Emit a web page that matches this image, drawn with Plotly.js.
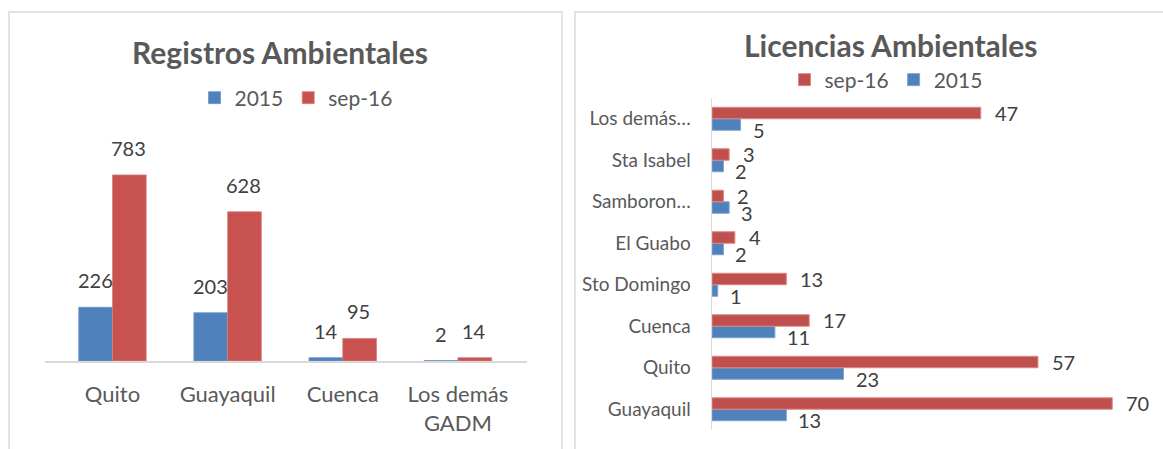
<!DOCTYPE html>
<html>
<head>
<meta charset="utf-8">
<script src="https://cdn.plot.ly/plotly-3.0.1.min.js"></script>
<style>html,body{margin:0;padding:0;background:#fff;}#chart{width:1163px;height:449px;}</style>
</head>
<body>
<div id="chart"></div>
<script>
// Registros Ambientales (left chart)
const leftCats = ['Quito', 'Guayaquil', 'Cuenca', 'Los demás<br>GADM'];
const left2015 = [226, 203, 14, 2];
const leftSep16 = [783, 628, 95, 14];

// Licencias Ambientales (right chart), bottom to top
const rightCats = ['Guayaquil', 'Quito', 'Cuenca', 'Sto Domingo', 'El Guabo', 'Samboron…', 'Sta Isabel', 'Los demás…'];
const right2015 = [13, 23, 11, 1, 2, 3, 2, 5];
const rightSep16 = [70, 57, 17, 13, 4, 2, 3, 47];

const seriesNames = ['2015', 'sep-16'];
const titles = ['Registros Ambientales', 'Licencias Ambientales'];

const BLUE = '#4F81BD', RED = '#C0504D', RED_L = '#C8524F';
const FONT = 'Lato, "Open Sans", sans-serif';
const W = 1163, H = 449;
const px = v => v / W;          // x pixel -> paper
const py = v => (H - v) / H;    // y pixel -> paper

const LW = 0.293; // left bar width (category units)
const RW = 0.277; // right bar width

const traces = [
  {type: 'bar', name: seriesNames[0], x: leftCats, y: left2015, width: LW, offset: -LW,
   marker: {color: BLUE, line: {color: '#6E97C9', width: 0.8}}, xaxis: 'x', yaxis: 'y', legend: 'legend', hoverinfo: 'x+y'},
  {type: 'bar', name: seriesNames[1], x: leftCats, y: leftSep16, width: LW, offset: 0,
   marker: {color: RED_L, line: {color: '#D7807D', width: 0.8}}, xaxis: 'x', yaxis: 'y', legend: 'legend', hoverinfo: 'x+y'},
  {type: 'bar', orientation: 'h', name: seriesNames[0], x: right2015, y: rightCats, width: RW, offset: -RW,
   marker: {color: BLUE, line: {color: '#7FA3D1', width: 1}}, xaxis: 'x2', yaxis: 'y2', legend: 'legend2', hoverinfo: 'x+y'},
  {type: 'bar', orientation: 'h', name: seriesNames[1], x: rightSep16, y: rightCats, width: RW, offset: 0,
   marker: {color: RED, line: {color: '#D98A88', width: 1}}, xaxis: 'x2', yaxis: 'y2', legend: 'legend2', hoverinfo: 'x+y'}
];

const valueFont = {family: FONT, size: 20, color: '#404040'};
const annotations = [];
// left value labels
leftCats.forEach((c, i) => {
  annotations.push({xref: 'x', yref: 'y', x: c, y: left2015[i], text: String(left2015[i]), showarrow: false,
    xanchor: 'center', yanchor: 'middle', xshift: -17, yshift: 27, font: valueFont});
  annotations.push({xref: 'x', yref: 'y', x: c, y: leftSep16[i], text: String(leftSep16[i]), showarrow: false,
    xanchor: 'center', yanchor: 'middle', xshift: 16, yshift: 27, font: valueFont});
});
// right value labels
rightCats.forEach((c, i) => {
  annotations.push({xref: 'x2', yref: 'y2', x: rightSep16[i], y: c, text: String(rightSep16[i]), showarrow: false,
    xanchor: 'left', yanchor: 'middle', xshift: 12, yshift: 6, font: valueFont});
  annotations.push({xref: 'x2', yref: 'y2', x: right2015[i], y: c, text: String(right2015[i]), showarrow: false,
    xanchor: 'left', yanchor: 'middle', xshift: 10, yshift: -11, font: valueFont});
});
// titles
annotations.push({xref: 'paper', yref: 'paper', x: px(280), y: py(52), text: titles[0], showarrow: false,
  xanchor: 'center', yanchor: 'middle', font: {family: FONT, size: 30, color: '#595959', weight: 'bold'}});
annotations.push({xref: 'paper', yref: 'paper', x: px(890), y: py(45), text: titles[1], showarrow: false,
  xanchor: 'center', yanchor: 'middle', font: {family: FONT, size: 30, color: '#595959', weight: 'bold'}});

const layout = {
  width: W, height: H,
  margin: {l: 0, r: 0, t: 0, b: 0, pad: 0},
  paper_bgcolor: '#FFFFFF', plot_bgcolor: 'rgba(0,0,0,0)',
  font: {family: FONT, color: '#595959'},
  showlegend: true,
  xaxis: {domain: [px(45), px(527)], anchor: 'y', type: 'category', range: [-0.586, 3.6],
    showline: true, linecolor: '#D9D9D9', linewidth: 2, ticks: '', showgrid: false, zeroline: false,
    ticklabelstandoff: 13, tickfont: {family: FONT, size: 22, color: '#595959'}, fixedrange: true},
  yaxis: {domain: [py(361), py(130)], anchor: 'x', range: [0, 972], visible: false, fixedrange: true},
  xaxis2: {domain: [px(712), px(1150)], anchor: 'y2', range: [0, 76.6], visible: false, fixedrange: true},
  yaxis2: {domain: [py(430), py(98)], anchor: 'x2', type: 'category', range: [-0.5, 7.5],
    showline: true, linecolor: '#D9D9D9', linewidth: 1.5, ticks: '', showgrid: false, zeroline: false,
    ticklabelstandoff: 16, tickfont: {family: FONT, size: 19, color: '#595959'}, fixedrange: true},
  legend: {orientation: 'h', x: px(296), xanchor: 'center', y: py(98), yanchor: 'middle',
    font: {family: FONT, size: 21, color: '#595959'}, bgcolor: 'rgba(0,0,0,0)', itemwidth: 30},
  legend2: {orientation: 'h', x: px(886), xanchor: 'center', y: py(80), yanchor: 'middle', traceorder: 'reversed',
    font: {family: FONT, size: 21, color: '#595959'}, bgcolor: 'rgba(0,0,0,0)', itemwidth: 30},
  shapes: [
    {type: 'rect', xref: 'paper', yref: 'paper', x0: px(9), x1: px(562), y0: -0.02, y1: py(12),
     line: {color: '#D9D9D9', width: 1.5}, fillcolor: 'rgba(0,0,0,0)', layer: 'below'},
    {type: 'rect', xref: 'paper', yref: 'paper', x0: px(575), x1: 1.02, y0: -0.02, y1: py(12),
     line: {color: '#D9D9D9', width: 1.5}, fillcolor: 'rgba(0,0,0,0)', layer: 'below'}
  ],
  annotations: annotations
};

Plotly.newPlot('chart', traces, layout, {displayModeBar: false, staticPlot: true});
</script>
</body>
</html>
